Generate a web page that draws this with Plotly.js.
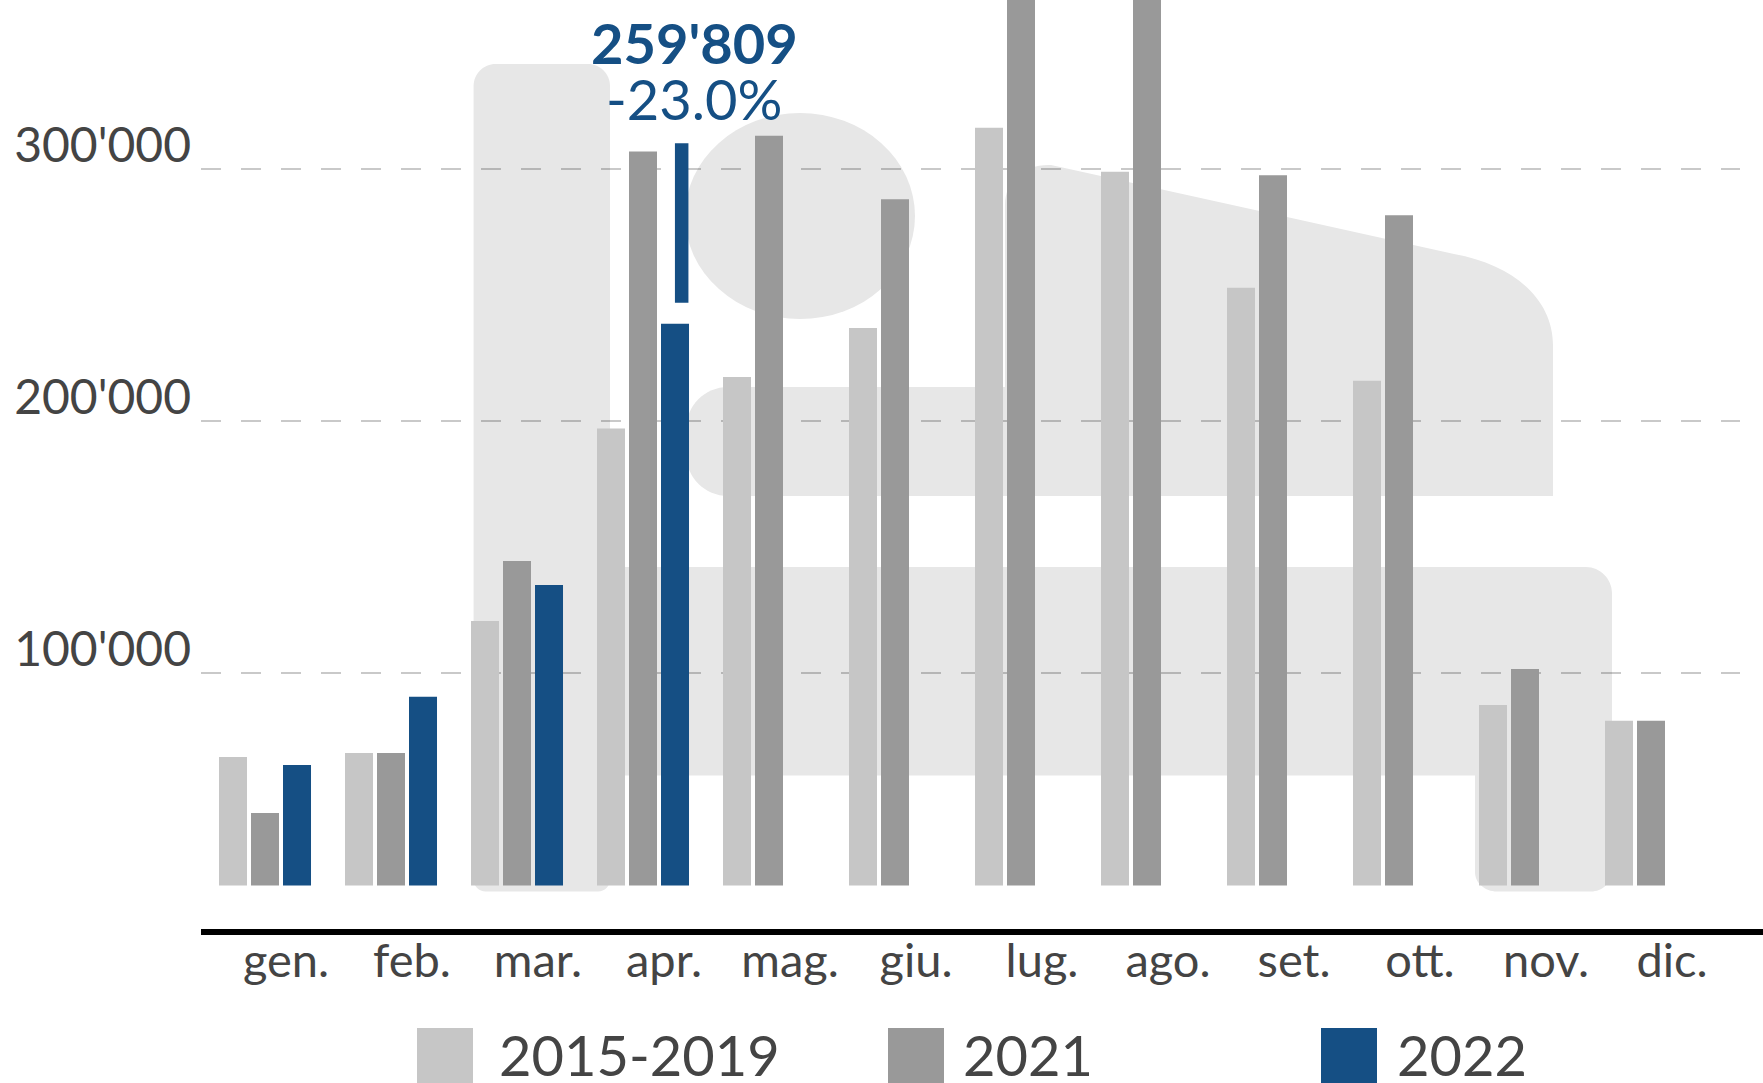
<!DOCTYPE html>
<html>
<head>
<meta charset="utf-8">
<script src="https://cdn.plot.ly/plotly-3.0.1.min.js"></script>
<style>
  html, body { margin: 0; padding: 0; background: #ffffff; }
  #chart { width: 1763px; height: 1083px; }
</style>
</head>
<body>
<div id="chart"></div>
<script>
// ---------------- data ----------------
const months = ["gen.", "feb.", "mar.", "apr.", "mag.", "giu.", "lug.", "ago.", "set.", "ott.", "nov.", "dic."];
const seriesNames = ["2015-2019", "2021", "2022"];
const values1519 = [66700, 68300, 120700, 197100, 217500, 237000, 316500, 299000, 253000, 216100, 87400, 81100];
const values2021 = [44500, 68300, 144500, 307000, 313300, 288100, 390000, 385000, 297600, 281700, 101600, 81100];
const values2022 = [63500, 90600, 135000, 238700, null, null, null, null, null, null, null, null];
const barBase = 15680;
const calloutMonth = "apr.";
const calloutLow = 247000;
const calloutHigh = 310300;
const calloutValue = "259'809";
const calloutChange = "-23.0%";
const yTicks = [100000, 200000, 300000];

// ---------------- layout helpers ----------------
const W = 1763, H = 1083;
const L = 201, R = 1740, T = 0, B = 931;
const PW = R - L, PH = B - T;
const X = px => (px - L) / PW;
const Y = py => (B - py) / PH;
const colors = ["#c6c6c6", "#999999", "#154f84"];
const bedGray = "#e7e7e7";
const textGray = "#444444";

function pt(x, y) { return X(x).toFixed(5) + "," + Y(y).toFixed(5); }
function roundRect(x0, y0, x1, y1, rtl, rtr, rbr, rbl) {
  const k = 0.5523;
  let d = "M" + pt(x0 + rtl, y0) + " L" + pt(x1 - rtr, y0);
  if (rtr) d += " C" + pt(x1 - rtr + rtr * k, y0) + " " + pt(x1, y0 + rtr - rtr * k) + " " + pt(x1, y0 + rtr);
  d += " L" + pt(x1, y1 - rbr);
  if (rbr) d += " C" + pt(x1, y1 - rbr + rbr * k) + " " + pt(x1 - rbr + rbr * k, y1) + " " + pt(x1 - rbr, y1);
  d += " L" + pt(x0 + rbl, y1);
  if (rbl) d += " C" + pt(x0 + rbl - rbl * k, y1) + " " + pt(x0, y1 - rbl + rbl * k) + " " + pt(x0, y1 - rbl);
  d += " L" + pt(x0, y0 + rtl);
  if (rtl) d += " C" + pt(x0, y0 + rtl - rtl * k) + " " + pt(x0 + rtl - rtl * k, y0) + " " + pt(x0 + rtl, y0);
  return d + " Z";
}
function pathShape(d) {
  return { type: "path", xref: "paper", yref: "paper", path: d, fillcolor: bedGray, line: { width: 0 }, layer: "below" };
}

// bed pictogram (background decoration)
const shapes = [
  pathShape(roundRect(473.6, 64, 610, 891.5, 22, 22, 12, 12)),
  { type: "circle", xref: "paper", yref: "paper", x0: X(685), x1: X(915), y0: Y(319), y1: Y(113),
    fillcolor: bedGray, line: { width: 0 }, layer: "below" },
  pathShape(roundRect(686, 387, 1553, 496, 42, 0, 0, 42)),
  pathShape("M" + pt(1005, 392) + " L" + pt(1005, 205) + " C" + pt(1005, 180) + " " + pt(1025, 164) + " " + pt(1051, 165) +
            " L" + pt(1454, 254) + " C" + pt(1515, 265) + " " + pt(1553, 300) + " " + pt(1553, 345) + " L" + pt(1553, 392) + " Z"),
  pathShape("M" + pt(605, 567) + " L" + pt(1586, 567) + " C" + pt(1600, 567) + " " + pt(1612, 579) + " " + pt(1612, 593) +
            " L" + pt(1612, 872) + " C" + pt(1612, 883) + " " + pt(1602, 891.5) + " " + pt(1591, 891.5) +
            " L" + pt(1497, 891.5) + " C" + pt(1485, 891.5) + " " + pt(1475, 883) + " " + pt(1475, 872) +
            " L" + pt(1475, 775.5) + " L" + pt(605, 775.5) + " Z"),
  // x axis baseline
  { type: "line", xref: "paper", yref: "paper", x0: X(201), x1: X(1763), y0: Y(932), y1: Y(932),
    line: { color: "#000000", width: 6 }, layer: "above" },
  // callout leader for April 2022
  { type: "line", xref: "x", yref: "y", x0: months.indexOf(calloutMonth) + 0.307, x1: months.indexOf(calloutMonth) + 0.307,
    y0: calloutLow, y1: calloutHigh, line: { color: colors[2], width: 13.5 }, layer: "above" }
];

// legend (drawn manually so the keys can be as large as the reference)
const legendKeysX = [417, 888, 1321];
const legendTextX = [497, 961, 1395];
legendKeysX.forEach((kx, i) => {
  shapes.push({ type: "rect", xref: "paper", yref: "paper", x0: X(kx), x1: X(kx + 56), y0: Y(1084), y1: Y(1028),
    fillcolor: colors[i], line: { width: 0 }, layer: "above" });
});

const annotations = seriesNames.map((name, i) => ({
  xref: "paper", yref: "paper", x: X(legendTextX[i]), y: Y(1054), xanchor: "left", yanchor: "middle",
  text: name, showarrow: false, font: { family: "Lato", size: 56, color: textGray }
}));
annotations.push({
  xref: "x", yref: "paper", x: months.indexOf(calloutMonth) + 0.405, y: Y(43), xanchor: "center", yanchor: "middle",
  text: "<b>" + calloutValue + "</b>", showarrow: false, font: { family: "Lato", size: 56, color: colors[2] }
});
annotations.push({
  xref: "x", yref: "paper", x: months.indexOf(calloutMonth) + 0.405, y: Y(99), xanchor: "center", yanchor: "middle",
  text: calloutChange, showarrow: false, font: { family: "Lato", size: 56, color: colors[2] }
});

// ---------------- traces ----------------
const allValues = [values1519, values2021, values2022];
const traces = allValues.map((vals, i) => ({
  type: "bar",
  name: seriesNames[i],
  x: months,
  y: vals.map(v => (v === null ? null : v - barBase)),
  base: barBase,
  marker: { color: colors[i], line: { width: 0 } },
  hoverinfo: "skip"
}));

const yPerPx = 2.5195 / 1000; // pixels per unit
const zeroPx = 925.1;
const layout = {
  width: W, height: H,
  margin: { l: L, r: W - R, t: T, b: H - B, pad: 0 },
  paper_bgcolor: "#ffffff",
  plot_bgcolor: "rgba(0,0,0,0)",
  separators: ".'",
  barmode: "group",
  bargap: 0.238,
  bargroupgap: 0.125,
  showlegend: false,
  font: { family: "Lato", color: textGray },
  xaxis: {
    type: "category",
    range: [-(265 - L) / 126, -(265 - L) / 126 + PW / 126],
    showgrid: false, zeroline: false, showline: false, ticks: "",
    tickfont: { family: "Lato", size: 47, color: textGray },
    ticklabelshift: 21,
    ticklabelstandoff: -2
  },
  yaxis: {
    range: [(zeroPx - B) / yPerPx, zeroPx / yPerPx],
    tickvals: yTicks,
    tickformat: ",d",
    showgrid: true, gridcolor: "rgba(0,0,0,0.21)", gridwidth: 2, griddash: "20px,20px",
    zeroline: false, showline: false, ticks: "",
    tickfont: { family: "Lato", size: 48, color: textGray },
    ticklabelshift: -24,
    ticklabelstandoff: 9
  },
  shapes: shapes,
  annotations: annotations
};

Plotly.newPlot("chart", traces, layout, { displayModeBar: false, staticPlot: true });
</script>
</body>
</html>
